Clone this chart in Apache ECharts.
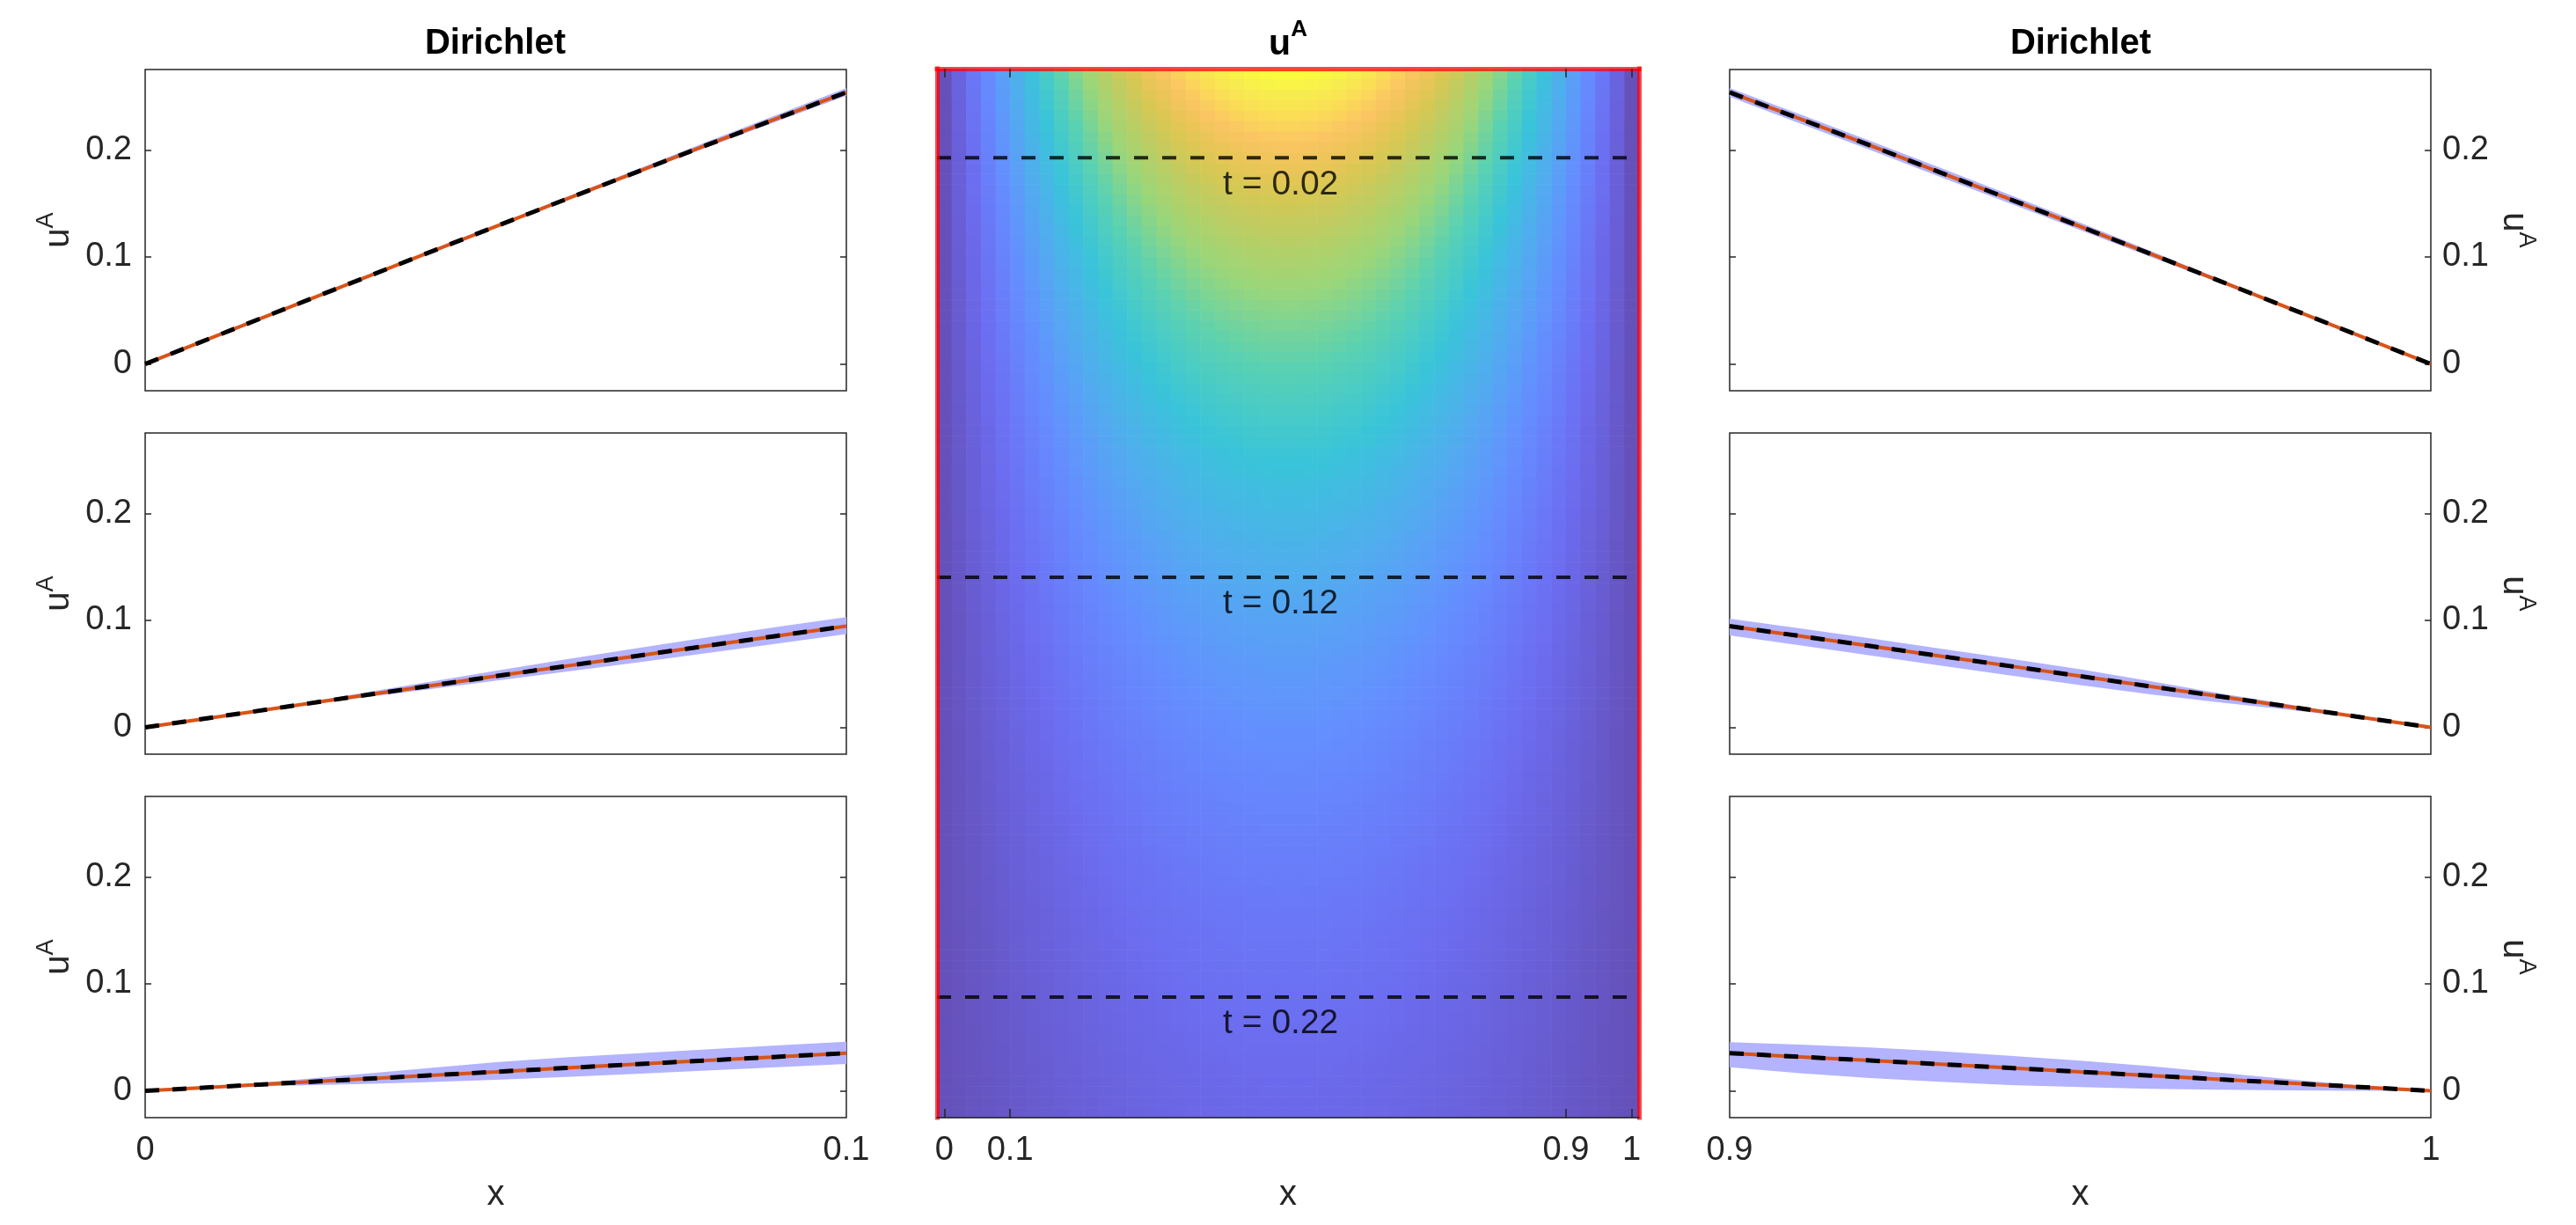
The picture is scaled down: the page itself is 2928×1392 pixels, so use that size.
<!DOCTYPE html>
<html>
<head>
<meta charset="utf-8">
<script src="https://cdn.jsdelivr.net/npm/echarts@6/dist/echarts.min.js"></script>
<style>
html,body{margin:0;padding:0;background:#fff;}
#c{width:2928px;height:1392px;}
</style>
</head>
<body>
<div id="c"></div>
<script>
// ---------------- DATA ----------------
// line panels: x grids
const xLeft  = [0, 0.01, 0.02, 0.03, 0.04, 0.05, 0.06, 0.07, 0.08, 0.09, 0.1];
const xRight = [0.9, 0.91, 0.92, 0.93, 0.94, 0.95, 0.96, 0.97, 0.98, 0.99, 1];

// left column (near x = 0): t = 0.02, 0.12, 0.22
const uL1  = [0, 0.0258, 0.0516, 0.0772, 0.1029, 0.1284, 0.1538, 0.1790, 0.2042, 0.2290, 0.2537];
const upL1 = [0, 0.0260, 0.0521, 0.0780, 0.1040, 0.1299, 0.1557, 0.1814, 0.2071, 0.2324, 0.2577];
const loL1 = [0, 0.0257, 0.0513, 0.0767, 0.1022, 0.1274, 0.1525, 0.1773, 0.2021, 0.2264, 0.2505];

const uL2  = [0, 0.0096, 0.0192, 0.0288, 0.0383, 0.0479, 0.0573, 0.0667, 0.0761, 0.0854, 0.0946];
const upL2 = [0, 0.0099, 0.0202, 0.0310, 0.0419, 0.0529, 0.0635, 0.0739, 0.0840, 0.0937, 0.1030];
const loL2 = [0, 0.0093, 0.0183, 0.0270, 0.0353, 0.0437, 0.0520, 0.0605, 0.0693, 0.0782, 0.0872];

const uL3  = [0, 0.0036, 0.0072, 0.0107, 0.0143, 0.0178, 0.0214, 0.0249, 0.0284, 0.0318, 0.0352];
const upL3 = [0, 0.0044, 0.0096, 0.0152, 0.0211, 0.0268, 0.0312, 0.0351, 0.0388, 0.0423, 0.0458];
const loL3 = [0, 0.0028, 0.0047, 0.0062, 0.0081, 0.0104, 0.0131, 0.0159, 0.0189, 0.0220, 0.0252];

// right column (near x = 1)
const uR1  = [0.2537, 0.2290, 0.2042, 0.1790, 0.1538, 0.1284, 0.1029, 0.0772, 0.0516, 0.0258, 0];
const upR1 = [0.2577, 0.2332, 0.2085, 0.1833, 0.1579, 0.1320, 0.1057, 0.0790, 0.0525, 0.0261, 0];
const loR1 = [0.2495, 0.2247, 0.1999, 0.1748, 0.1499, 0.1250, 0.1002, 0.0754, 0.0507, 0.0255, 0];

const uR2  = [0.0946, 0.0854, 0.0761, 0.0667, 0.0573, 0.0479, 0.0383, 0.0288, 0.0192, 0.0096, 0];
const upR2 = [0.1016, 0.0925, 0.0832, 0.0737, 0.0641, 0.0543, 0.0433, 0.0318, 0.0212, 0.0104, 0];
const loR2 = [0.0860, 0.0767, 0.0673, 0.0579, 0.0486, 0.0395, 0.0308, 0.0233, 0.0162, 0.0086, 0];

const uR3  = [0.0352, 0.0318, 0.0284, 0.0249, 0.0214, 0.0178, 0.0143, 0.0107, 0.0072, 0.0036, 0];
const upR3 = [0.0455, 0.0432, 0.0405, 0.0370, 0.0328, 0.0282, 0.0230, 0.0170, 0.0108, 0.0050, 0];
const loR3 = [0.0220, 0.0165, 0.0120, 0.0085, 0.0055, 0.0035, 0.0020, 0.0010, 0.0004, 0.0001, 0];

const yTicks = [0, 0.1, 0.2];
const yMin = -0.025, yMax = 0.275;

// heat map (u^A over x and t): column profile (t = 0 row) and per-row decay
const heatColProfile = [0, 0.0668, 0.1333, 0.1992, 0.2642, 0.3280, 0.3904, 0.4510, 0.5096, 0.5660,
  0.6198, 0.6709, 0.7190, 0.7638, 0.8053, 0.8431, 0.8771, 0.9071, 0.9332, 0.9551, 0.9728, 0.9861,
  0.9950, 0.9994, 0.9994, 0.9950, 0.9861, 0.9728, 0.9551, 0.9332, 0.9071, 0.8771, 0.8431, 0.8053,
  0.7638, 0.7190, 0.6709, 0.6198, 0.5660, 0.5096, 0.4510, 0.3904, 0.3280, 0.2642, 0.1992, 0.1333,
  0.0668, 0];
const heatRowDecay = [1.000, 0.976, 0.952, 0.929, 0.906, 0.884, 0.862, 0.841, 0.821, 0.801,
  0.781, 0.762, 0.744, 0.726, 0.708, 0.691, 0.674, 0.657, 0.641, 0.626,
  0.611, 0.596, 0.581, 0.567, 0.553, 0.540, 0.527, 0.514, 0.501, 0.489,
  0.477, 0.465, 0.454, 0.443, 0.432, 0.422, 0.411, 0.401, 0.392, 0.382,
  0.373, 0.364, 0.355, 0.346, 0.338, 0.329, 0.321, 0.314, 0.306, 0.298,
  0.291, 0.284, 0.277, 0.270, 0.264, 0.257, 0.251, 0.245, 0.239, 0.233,
  0.228, 0.222, 0.217, 0.211, 0.206, 0.201, 0.196, 0.191, 0.187, 0.182,
  0.178, 0.173, 0.169, 0.165, 0.161, 0.157, 0.153, 0.150, 0.146, 0.142,
  0.139, 0.136, 0.132, 0.129, 0.126, 0.123, 0.120, 0.117, 0.114, 0.111,
  0.109, 0.106, 0.103, 0.101, 0.098, 0.096, 0.094, 0.091, 0.089, 0.087];
const heatDt = 0.0025;                       // time step between rows
const heatXTickPos = [0, 4.5, 42.5, 47];     // column-index positions of x ticks
const heatXTickLabels = ['0', '0.1', '0.9', '1'];
const tLines = [0.02, 0.12, 0.22];
const tLineLabels = ['t = 0.02', 't = 0.12', 't = 0.22'];

// ---------------- STYLE ----------------
const FONT = '"Liberation Sans", Arial, Helvetica, sans-serif';
const TXT = '#262626';
const ORANGE = '#d95319';
const BAND = '#b3b3ff';
const RED = 'rgba(255,0,0,0.72)';
// parula colormap blended with white at 0.8 alpha
const parulaFaded = ['#6551b9','#695fd7','#6c6cef','#697cf9','#658cff','#5c9cf9','#52abef','#46b8e5',
  '#39c4d9','#49cbc6','#5ad1b2','#7ad496','#9ad67a','#afd16b','#c3cb5f','#d7c853','#ebc557',
  '#fbc563','#fbdb57','#f7ec4f','#fafc3e'];

const fmtNum = v => (Math.abs(v) < 1e-9 ? '0' : String(+v.toFixed(2)));

// ---------------- BUILD ----------------
const panelTops = [79, 492, 905];
const panelH = 365, panelW = 797;
const panels = [
  {left: 165,  top: panelTops[0], xs: xLeft,  u: uL1, up: upL1, lo: loL1, side: 'left',  bottom: false},
  {left: 165,  top: panelTops[1], xs: xLeft,  u: uL2, up: upL2, lo: loL2, side: 'left',  bottom: false},
  {left: 165,  top: panelTops[2], xs: xLeft,  u: uL3, up: upL3, lo: loL3, side: 'left',  bottom: true},
  {left: 1966, top: panelTops[0], xs: xRight, u: uR1, up: upR1, lo: loR1, side: 'right', bottom: false},
  {left: 1966, top: panelTops[1], xs: xRight, u: uR2, up: upR2, lo: loR2, side: 'right', bottom: false},
  {left: 1966, top: panelTops[2], xs: xRight, u: uR3, up: upR3, lo: loR3, side: 'right', bottom: true}
];

const uaRich = {
  u: {fontSize: 40, lineHeight: 56, color: TXT, fontFamily: FONT},
  a: {fontSize: 27, lineHeight: 27, verticalAlign: 'top', color: TXT, fontFamily: FONT}
};

const grids = [], xAxes = [], yAxes = [], series = [];

function bandRender(params, api) {
  if (params.dataIndexInside !== 0) return null;
  const n = params.dataInsideLength;
  const top = [], bot = [];
  for (let i = 0; i < n; i++) {
    top.push(api.coord([api.value(0, i), api.value(2, i)]));
    bot.push(api.coord([api.value(0, i), api.value(1, i)]));
  }
  return {type: 'polygon', shape: {points: top.concat(bot.reverse())},
    style: {fill: BAND, stroke: null}};
}

panels.forEach((p, k) => {
  grids.push({left: p.left, top: p.top, width: panelW, height: panelH, show: true,
    borderColor: TXT, borderWidth: 1.5, backgroundColor: 'transparent', containLabel: false});
  const xMin = p.xs[0], xMax = p.xs[p.xs.length - 1];
  xAxes.push({
    gridIndex: k, type: 'value', min: xMin, max: xMax,
    axisLine: {show: false, onZero: false}, axisTick: {show: false}, splitLine: {show: false},
    axisLabel: {show: p.bottom, customValues: [xMin, xMax], formatter: fmtNum,
      fontSize: 38, color: TXT, margin: 19, fontFamily: FONT},
    name: p.bottom ? 'x' : '', nameLocation: 'middle', nameGap: 68,
    nameTextStyle: {fontSize: 40, color: TXT, fontFamily: FONT}
  });
  const yMainIdx = yAxes.length;
  yAxes.push({
    gridIndex: k, type: 'value', min: yMin, max: yMax, position: p.side,
    axisLine: {show: false, onZero: false}, splitLine: {show: false},
    axisTick: {show: true, inside: true, length: 7, customValues: yTicks, lineStyle: {color: TXT, width: 1.5}},
    axisLabel: {customValues: yTicks, formatter: fmtNum, fontSize: 38, color: TXT,
      margin: p.side === 'left' ? 15 : 13, fontFamily: FONT},
    name: '{u|u}{a|A}', nameLocation: 'middle',
    nameGap: p.side === 'left' ? 70 : 66, nameRotate: p.side === 'left' ? 90 : -90,
    nameTextStyle: {rich: uaRich}
  });
  yAxes.push({
    gridIndex: k, type: 'value', min: yMin, max: yMax, position: p.side === 'left' ? 'right' : 'left',
    axisLine: {show: false, onZero: false}, splitLine: {show: false}, axisLabel: {show: false},
    axisTick: {show: true, inside: true, length: 7, customValues: yTicks, lineStyle: {color: TXT, width: 1.5}}
  });
  // uncertainty band
  series.push({
    type: 'custom', xAxisIndex: k, yAxisIndex: yMainIdx, silent: true, animation: false, z: 1,
    data: p.xs.map((x, i) => [x, p.lo[i], p.up[i]]),
    encode: {x: 0, y: [1, 2]},
    renderItem: bandRender
  });
  const common = {xAxisIndex: k, yAxisIndex: yMainIdx, symbol: 'none', silent: true, animation: false};
  series.push(Object.assign({type: 'line', data: p.xs.map((x, i) => [x, p.u[i]]),
    lineStyle: {color: ORANGE, width: 4}, z: 2}, common));
  series.push(Object.assign({type: 'line', data: p.xs.map((x, i) => [x, p.u[i]]),
    lineStyle: {color: '#000', width: 5, type: [16, 15]}, z: 3}, common));
});

// ---- middle heat map ----
const gMid = grids.length;
grids.push({left: 1065, top: 78, width: 798, height: 1192, show: false, containLabel: false});
const nCols = heatColProfile.length, nRows = heatRowDecay.length;
const hxMin = -0.5, hxMax = nCols - 0.5;
const htMin = -heatDt / 2, htMax = (nRows - 1) * heatDt + heatDt / 2;

const xMidIdx = xAxes.length;
xAxes.push({
  gridIndex: gMid, type: 'value', min: hxMin, max: hxMax, position: 'bottom', z: 5,
  axisLine: {show: true, onZero: false, lineStyle: {color: TXT, width: 1.5}},
  axisTick: {show: true, inside: true, length: 10, customValues: heatXTickPos, lineStyle: {color: TXT, width: 1.5}},
  axisLabel: {customValues: heatXTickPos, fontSize: 38, color: TXT, margin: 19, fontFamily: FONT,
    formatter: v => heatXTickLabels[heatXTickPos.indexOf(v)]},
  splitLine: {show: false},
  name: 'x', nameLocation: 'middle', nameGap: 68,
  nameTextStyle: {fontSize: 40, color: TXT, fontFamily: FONT}
});
xAxes.push({
  gridIndex: gMid, type: 'value', min: hxMin, max: hxMax, position: 'top', z: 5,
  axisLine: {show: true, onZero: false, lineStyle: {color: RED, width: 5, cap: 'square'}},
  axisTick: {show: true, inside: true, length: 10, customValues: heatXTickPos, lineStyle: {color: TXT, width: 1.5}},
  axisLabel: {show: false}, splitLine: {show: false}
});
const yMidIdx = yAxes.length;
yAxes.push({
  gridIndex: gMid, type: 'value', min: htMin, max: htMax, inverse: true, position: 'left', z: 5,
  axisLine: {show: true, onZero: false, lineStyle: {color: RED, width: 5, cap: 'square'}},
  axisTick: {show: false}, axisLabel: {show: false}, splitLine: {show: false}
});
yAxes.push({
  gridIndex: gMid, type: 'value', min: htMin, max: htMax, inverse: true, position: 'right', z: 5,
  axisLine: {show: true, onZero: false, lineStyle: {color: RED, width: 5, cap: 'square'}},
  axisTick: {show: false}, axisLabel: {show: false}, splitLine: {show: false}
});

const heatData = [];
for (let j = 0; j < nRows; j++) {
  for (let i = 0; i < nCols; i++) {
    heatData.push([i, j * heatDt, heatColProfile[i] * heatRowDecay[j]]);
  }
}
const heatSeriesIndex = series.length;
series.push({
  type: 'custom', xAxisIndex: xMidIdx, yAxisIndex: yMidIdx, silent: true, animation: false,
  encode: {x: 0, y: 1}, data: heatData, z: 1,
  renderItem: function (params, api) {
    const c = api.coord([api.value(0), api.value(1)]);
    const s = api.size([1, heatDt]);
    const w = Math.abs(s[0]), h = Math.abs(s[1]);
    return {type: 'rect', shape: {x: c[0] - w / 2, y: c[1] - h / 2, width: w + 0.6, height: h + 0.6},
      style: {fill: api.visual('color')}};
  }
});

tLines.forEach((t, k) => {
  series.push({
    type: 'line', xAxisIndex: xMidIdx, yAxisIndex: yMidIdx, symbol: 'none', silent: true, animation: false,
    data: [[hxMin, t], [hxMax, t]], z: 3,
    lineStyle: {color: 'rgba(0,0,0,0.8)', width: 4, type: [16, 16]}
  });
});
series.push({
  type: 'scatter', xAxisIndex: xMidIdx, yAxisIndex: yMidIdx, symbolSize: 0, silent: true, animation: false, z: 4,
  data: tLines.map((t, k) => ({value: [23, t], label: {formatter: tLineLabels[k]}})),
  label: {show: true, position: 'bottom', distance: 11, fontSize: 39, color: '#000', fontFamily: FONT}
});

const option = {
  animation: false,
  backgroundColor: '#ffffff',
  textStyle: {fontFamily: FONT},
  title: [
    {text: 'Dirichlet', left: 563, top: 30, textAlign: 'center', padding: 0,
      textStyle: {fontSize: 40, fontWeight: 'bold', color: '#000', fontFamily: FONT}},
    {text: '{u|u}{a|A}', left: 1464, top: 21, textAlign: 'center', padding: 0,
      textStyle: {rich: {
        u: {fontSize: 41, lineHeight: 60, fontWeight: 'bold', color: '#000', fontFamily: FONT},
        a: {fontSize: 26, lineHeight: 26, fontWeight: 'bold', verticalAlign: 'top', color: '#000', fontFamily: FONT}
      }}},
    {text: 'Dirichlet', left: 2365, top: 30, textAlign: 'center', padding: 0,
      textStyle: {fontSize: 40, fontWeight: 'bold', color: '#000', fontFamily: FONT}}
  ],
  visualMap: [{type: 'continuous', show: false, min: 0, max: 1, dimension: 2,
    seriesIndex: heatSeriesIndex, inRange: {color: parulaFaded}}],
  grid: grids, xAxis: xAxes, yAxis: yAxes, series: series
};

const chart = echarts.init(document.getElementById('c'), null, {renderer: 'canvas'});
chart.setOption(option);
</script>
</body>
</html>
